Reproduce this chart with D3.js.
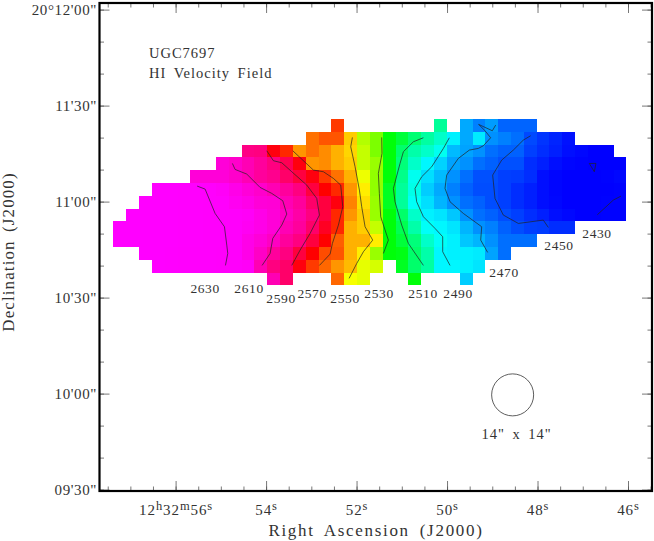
<!DOCTYPE html>
<html>
<head>
<meta charset="utf-8">
<script src="https://cdn.jsdelivr.net/npm/d3@7"></script>
<style>
  html, body { margin: 0; padding: 0; background: #fff; }
  svg { display: block; }
  text { font-family: "Liberation Serif", serif; fill: #333; }
</style>
</head>
<body>
<svg id="chart" width="654" height="541"></svg>
<script>
const _ = null;

// Velocity (km/s) per map cell. Row 0 is the northern one.
// Each row starts at the column given in rowFirstCol.
const rowFirstCol = [17, 15, 10, 8, 6, 3, 2, 1, 0, 0, 2, 3, 12];
const velocityRows = [
  [2566,_,_,_,_,_,_,_,2504,_,2477,2470,2475,2462,2462,2462],
  [2560,2563,2563,2550,2535,2529,2518,2514,2509,2503,2498,2489,2477,2488,2473,2470,2465,2454,2447,2440,2432],
  [2593,2592,2575,2568,2556,2560,2557,2553,2549,2537,2529,2518,2510,2502,2498,2493,2480,2476,2473,2465,2461,2461,2451,2444,2438,2431,2428,2425,2425],
  [2612,2608,2603,2598,2592,2585,2575,2556,2557,2553,2550,2537,2532,2518,2508,2498,2490,2484,2476,2473,2465,2461,2456,2456,2444,2438,2431,2427,2426,2425,2425,2425],
  [2612,2612,2612,2608,2603,2598,2595,2588,2582,2575,2566,2560,2553,2542,2531,2518,2506,2493,2486,2480,2473,2465,2456,2456,2451,2450,2444,2431,2427,2425,2425,2425,2426,2428],
  [2640,2640,2638,2636,2634,2628,2620,2612,2608,2603,2598,2592,2582,2573,2568,2556,2546,2531,2516,2504,2494,2483,2477,2470,2461,2455,2455,2451,2444,2438,2431,2427,2425,2425,2425,2425,2426],
  [2640,2640,2640,2638,2636,2634,2632,2625,2620,2612,2610,2603,2598,2588,2582,2575,2558,2548,2532,2516,2504,2492,2486,2479,2473,2465,2461,2455,2451,2444,2438,2431,2428,2425,2425,2425,2426,2426],
  [2640,2640,2640,2640,2638,2636,2634,2632,2631,2628,2620,2612,2606,2600,2592,2582,2568,2556,2550,2532,2518,2510,2498,2489,2487,2482,2473,2465,2461,2455,2451,2444,2438,2431,2428,2425,2425,2426,2426],
  [2640,2640,2640,2640,2640,2638,2636,2634,2632,2631,2626,2620,2612,2603,2598,2588,2578,2568,2553,2550,2537,2518,2512,2502,2492,2490,2487,2479,2473,2470,2461,2455,2451,2450,2444,2444],
  [2640,2640,2640,2640,2640,2638,2636,2634,2632,2630,2620,2612,2606,2598,2592,2582,2573,2562,2553,2553,2546,2518,2514,2508,2498,2492,2489,2482,2479,2473,2465,2465,2465],
  [2640,2640,2638,2636,2634,2632,2631,2630,2620,2607,2598,2592,2582,2573,2564,2563,2553,2546,2532,2518,2517,2510,2502,2490,2489,2489,2488,2476,2465],
  [2640,2638,2636,2634,2632,2631,2630,2628,2603,2592,2588,2575,2566,2561,2556,2552,2541,2539,_,2516,2510,2503,2490,2490,2489,2487],
  [2603,2588,_,_,_,2561,2543,2541,_,_,_,2518,_,_,_,2483]
];
// Map grid: first cell corner and cell size, RA seconds and arcsec above 20d09m30s
const gridRa0 = 57.375;
const gridRaStep = 0.2835;
const gridDec0 = 115.8;
const gridDecStep = 4;

// Contours, [RA seconds, arcsec above 20d09m30s]
const contourLines = [
  [[55.524,94.85],[55.348,93.91],[55.127,86.31],[54.92,82.14],[54.869,76.41],[54.847,73.81],[54.898,70.06]],
  [[54.744,101.93],[54.685,100.06],[54.427,98.6],[54.132,94.43],[53.874,92.56],[53.631,90.27],[53.543,86.1],[53.653,82.66],[53.852,78.5],[53.911,73.81],[54.088,70.06]],
  [[53.985,105.89],[53.838,102.77],[53.653,102.14],[53.432,99.33],[53.101,95.16],[52.88,91],[52.821,85.79],[53.027,80.06],[53.248,74.85],[53.432,70.06]],
  [[53.41,105.89],[52.954,99.85],[52.733,99.33],[52.512,97.25],[52.35,95.16],[52.305,88.39],[52.401,82.66],[52.534,76.93],[52.585,73.6],[52.821,70.06]],
  [[52.092,110.06],[52.129,107.14],[52.033,100.89],[51.937,93.6],[51.886,88.39],[51.812,82.14],[51.643,77.97],[51.849,74.33],[51.996,70.68],[52.165,66]],
  [[51.444,110.06],[51.437,105.06],[51.518,98.81],[51.496,92.56],[51.466,85.27],[51.297,77.97],[51.407,73.81]],
  [[50.523,109.95],[50.744,108.7],[50.965,105.58],[51.039,101.93],[51.186,94.12],[51.15,89.95],[51.002,82.66],[50.855,76.93],[50.523,70.06]],
  [[49.949,109.95],[50.081,106.62],[50.339,100.89],[50.56,97.77],[50.708,94.12],[50.671,89.95],[50.523,85.27],[50.266,81.62],[50.096,79.02],[50.096,74.33],[49.934,70.06]],
  [[48.925,113.91],[48.999,112.14],[49.301,114.12],[49.161,112.14],[49.036,109.95],[49.198,107.45],[49.308,106.62],[49.507,106.1],[49.75,103.5],[50.008,98.29],[50.045,94.12],[49.934,89.95],[49.64,86.31],[49.234,82.14],[49.256,77.97],[49.102,74.12]],
  [[48.152,110.58],[48.314,109.22],[48.535,106.1],[48.792,102.97],[48.991,98.29],[48.94,91],[48.756,85.79],[48.424,83.18],[47.872,84.22],[47.761,81.93]],
  [[46.678,85.89],[46.325,90.47],[46.155,91.72]],
  [[46.855,101.93],[46.708,101.93],[46.745,99.33],[46.855,101.93]]
];
const labelLevels = [2630, 2610, 2590, 2570, 2550, 2530, 2510, 2490, 2470, 2450, 2430];
const labelRa = [55.348, 54.376, 53.669, 52.983, 52.254, 51.503, 50.53, 49.757, 48.74, 47.525, 46.685];
const labelDec = [62.97, 62.97, 59.84, 61.4, 59.84, 61.4, 61.4, 61.4, 68, 76.4, 80.2];

const raTicks = [56, 54, 52, 50, 48, 46];
const raTickLabels = ['12h32m56s', '54s', '52s', '50s', '48s', '46s'];
const raMinorTicks = d3.range(45.5, 58, 0.5);
const decTicks = [0, 30, 60, 90, 120, 150];
const decTickLabels = ['09\'30"', '10\'00"', '10\'30"', '11\'00"', '11\'30"', '20\u00b012\'00"'];
const decMinorTicks = d3.range(0, 151, 10);

const beamRa = 48.55;
const beamDec = 29.6;
const beamLabel = '14" x 14"';
const titleLines = ['UGC7697', 'HI Velocity Field'];

const frame = { left: 99.5, right: 652, top: 3, bottom: 491 };
const svg = d3.select('#chart');

const scaleX = d3.scaleLinear().domain([56, 46]).range([175.6, 628]);
const scaleY = d3.scaleLinear().domain([0, 150]).range([489.6, 9.6]);

// Velocity to hue, pinned on the contour levels
const hueOf = d3.scaleLinear()
  .domain([2425, 2450, 2470, 2490, 2510, 2530, 2550, 2570, 2590, 2610, 2630, 2640])
  .range([240, 226, 210, 182, 145, 88, 48, 5, -28, -50, -59, -60])
  .clamp(true);
const colorOf = v => d3.hsl((hueOf(v) + 360) % 360, 1, 0.5).formatHex();

// flatten the rows to cells
const cells = [];
velocityRows.forEach((row, r) => {
  row.forEach((v, i) => {
    if (v !== null) cells.push({ col: rowFirstCol[r] + i, row: r, v: v });
  });
});

svg.append('g').classed('cells', true)
  .attr('shape-rendering', 'crispEdges')
  .selectAll('rect').data(cells)
  .enter().append('rect')
  .attr('x', d => scaleX(gridRa0 - d.col * gridRaStep))
  .attr('y', d => scaleY(gridDec0 - d.row * gridDecStep))
  .attr('width', d => scaleX(gridRa0 - (d.col + 1) * gridRaStep) - scaleX(gridRa0 - d.col * gridRaStep))
  .attr('height', d => scaleY(gridDec0 - (d.row + 1) * gridDecStep) - scaleY(gridDec0 - d.row * gridDecStep))
  .attr('fill', d => colorOf(d.v));

// Contours
const line = d3.line().x(d => scaleX(d[0])).y(d => scaleY(d[1]));
svg.append('g').classed('contours', true)
  .selectAll('path').data(contourLines)
  .enter().append('path')
  .attr('d', line)
  .attr('fill', 'none')
  .attr('stroke', '#222')
  .attr('stroke-width', 0.7);

svg.append('g').classed('contour-labels', true)
  .selectAll('text').data(labelLevels)
  .enter().append('text')
  .attr('x', (d, i) => scaleX(labelRa[i]))
  .attr('y', (d, i) => scaleY(labelDec[i]))
  .attr('dy', '0.34em')
  .attr('text-anchor', 'middle')
  .style('font-size', '13.5px')
  .style('letter-spacing', '0.6px')
  .text(d => d);

// Axes, all four sides carry ticks pointing in
function styleAxis(g) {
  g.select('.domain').remove();
  g.selectAll('.tick line').attr('stroke', '#555').attr('stroke-width', 0.8);
}
function minorAxis(axis, scale, ticks, size) {
  return axis(scale).tickValues(ticks).tickSize(size).tickFormat('');
}

const inX = raMinorTicks.filter(d => scaleX(d) > frame.left && scaleX(d) < frame.right);
svg.append('g').attr('transform', `translate(0,${frame.bottom})`)
  .call(minorAxis(d3.axisBottom, scaleX, inX, -4.5)).call(styleAxis);
svg.append('g').attr('transform', `translate(0,${frame.top})`)
  .call(minorAxis(d3.axisTop, scaleX, inX, -4.5)).call(styleAxis);
svg.append('g').attr('transform', `translate(${frame.left},0)`)
  .call(minorAxis(d3.axisLeft, scaleY, decMinorTicks, -4.5)).call(styleAxis);
svg.append('g').attr('transform', `translate(${frame.right},0)`)
  .call(minorAxis(d3.axisRight, scaleY, decMinorTicks, -4.5)).call(styleAxis);

svg.append('g').attr('transform', `translate(0,${frame.top})`)
  .call(minorAxis(d3.axisTop, scaleX, raTicks, -10)).call(styleAxis);
svg.append('g').attr('transform', `translate(${frame.right},0)`)
  .call(minorAxis(d3.axisRight, scaleY, decTicks, -10)).call(styleAxis);

const bottomAxis = d3.axisBottom(scaleX).tickValues(raTicks).tickSize(-10).tickPadding(13)
  .tickFormat((d, i) => raTickLabels[i]);
const gBottom = svg.append('g').attr('transform', `translate(0,${frame.bottom})`)
  .call(bottomAxis).call(styleAxis);
gBottom.selectAll('.tick text').each(function() {
  const t = d3.select(this);
  const parts = t.text().match(/\d+|[a-z]/g);
  t.text(null).attr('fill', null)
    .style('font-size', '15px').style('letter-spacing', '0.9px');
  let raised = false;
  parts.forEach(p => {
    const sup = /[a-z]/.test(p);
    const s = t.append('tspan').text(p);
    if (sup) s.attr('dy', '-5').style('font-size', '12.5px');
    else if (raised) s.attr('dy', '5');
    raised = sup;
  });
});

const leftAxis = d3.axisLeft(scaleY).tickValues(decTicks).tickSize(-10).tickPadding(2.5)
  .tickFormat((d, i) => decTickLabels[i]);
svg.append('g').attr('transform', `translate(${frame.left},0)`)
  .call(leftAxis).call(styleAxis)
  .selectAll('.tick text')
  .attr('fill', null)
  .style('font-size', '15px')
  .style('letter-spacing', '0.6px');

svg.selectAll('g').filter(function() { return this.hasAttribute('font-family'); })
  .attr('font-family', null).attr('font-size', null);

// Frame
svg.append('rect')
  .attr('x', frame.left).attr('y', frame.top)
  .attr('width', frame.right - frame.left).attr('height', frame.bottom - frame.top)
  .attr('fill', 'none').attr('stroke', '#000').attr('stroke-width', 2.2);

// Axis titles
svg.append('text').attr('x', 376).attr('y', 536)
  .attr('text-anchor', 'middle')
  .style('font-size', '17px').style('letter-spacing', '1.7px').style('word-spacing', '4px')
  .text('Right Ascension (J2000)');
svg.append('text')
  .attr('transform', 'translate(14,252) rotate(-90)')
  .attr('text-anchor', 'middle')
  .style('font-size', '17px').style('letter-spacing', '1.1px').style('word-spacing', '3px')
  .text('Declination (J2000)');

// Title
svg.append('g').selectAll('text').data(titleLines)
  .enter().append('text')
  .attr('x', 149).attr('y', (d, i) => 58 + i * 20)
  .style('font-size', '14.5px').style('letter-spacing', '1px').style('word-spacing', '3px')
  .text(d => d);

// Beam
svg.append('circle')
  .attr('cx', scaleX(beamRa)).attr('cy', scaleY(beamDec)).attr('r', 21)
  .attr('fill', 'none').attr('stroke', '#333').attr('stroke-width', 0.8);
svg.append('text')
  .attr('x', scaleX(beamRa) + 4).attr('y', scaleY(beamDec) + 44)
  .attr('text-anchor', 'middle')
  .style('font-size', '14.5px').style('letter-spacing', '1px').style('word-spacing', '3px')
  .text(beamLabel);
</script>
</body>
</html>
